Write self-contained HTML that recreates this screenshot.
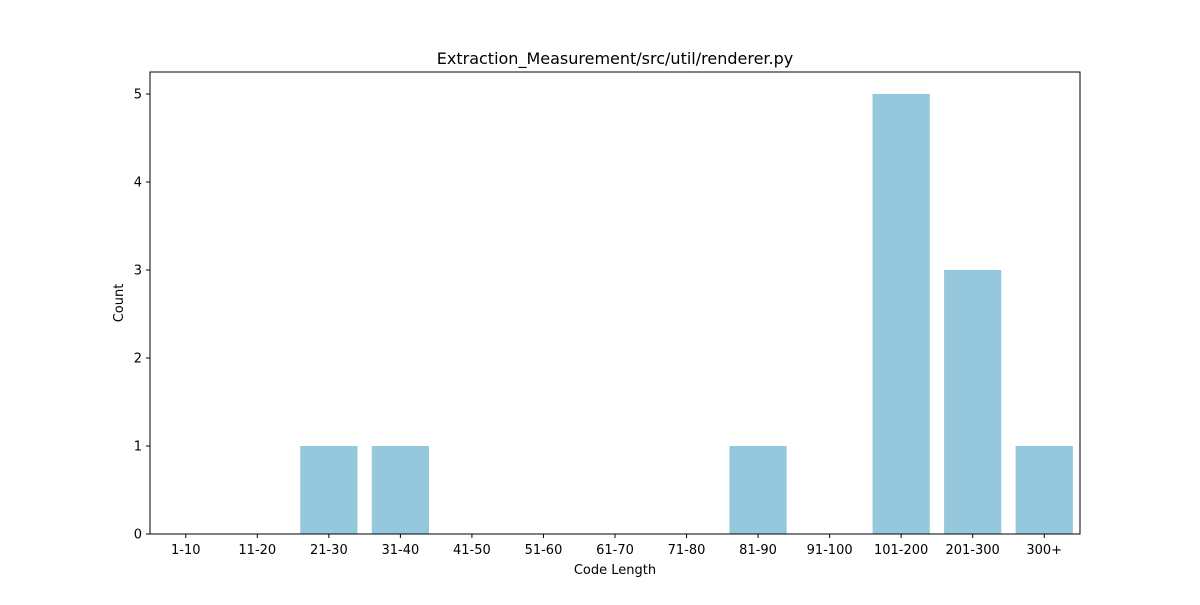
<!DOCTYPE html>
<html><head><meta charset="utf-8"><style>
body{margin:0;background:#fff;font-family:"Liberation Sans","DejaVu Sans",sans-serif;}
svg text{font-family:"DejaVu Sans","Liberation Sans",sans-serif;}
</style></head><body>
<svg id="chart" width="1200" height="600" xmlns="http://www.w3.org/2000/svg">
<rect width="1200" height="600" fill="#fff"/>
<text x="615" y="64" text-anchor="middle" font-size="16">Extraction_Measurement/src/util/renderer.py</text>
<g id="bars"></g>
<g id="axes"></g>
<text x="615" y="574" text-anchor="middle" font-size="13">Code Length</text>
<text transform="translate(123,303) rotate(-90)" text-anchor="middle" font-size="13">Count</text>
</svg>
<script>
const categories=["1-10","11-20","21-30","31-40","41-50","51-60","61-70","71-80","81-90","91-100","101-200","201-300","300+"];
const counts=[0,0,1,1,0,0,0,0,1,0,5,3,1];
const yTicks=[0,1,2,3,4,5];
const L=150,R=1080,T=72,B=534,yMax=5.25;
const band=(R-L)/categories.length;
const x=i=>L+band*(i+0.5);
const y=v=>B-(v/yMax)*(B-T);
const ns="http://www.w3.org/2000/svg";
const bars=document.getElementById('bars'),axes=document.getElementById('axes');
function mk(tag,attrs,parent){const e=document.createElementNS(ns,tag);for(const k in attrs)e.setAttribute(k,attrs[k]);parent.appendChild(e);return e;}
counts.forEach((v,i)=>{
 const w=band*0.8;
 const r=mk('rect',{x:x(i)-w/2,y:y(v),width:w,height:B-y(v),fill:'#95c8dc'},bars);
 
 
});
const frame=mk('rect',{x:L,y:T,width:R-L,height:B-T,fill:'none',stroke:'#000','stroke-width':1},axes);


yTicks.forEach(t=>{
 mk('line',{x1:L-4,x2:L,y1:y(t),y2:y(t),stroke:'#000'},axes);
 const tx=mk('text',{x:L-8,y:y(t)+4.5,'text-anchor':'end','font-size':13},axes);
 tx.textContent=t;
 
 
});
categories.forEach((c,i)=>{
 mk('line',{x1:x(i),x2:x(i),y1:B,y2:B+4,stroke:'#000'},axes);
 const tx=mk('text',{x:x(i),y:B+20,'text-anchor':'middle','font-size':13},axes);
 tx.textContent=c;
 
 
});
</script>
</body></html>
